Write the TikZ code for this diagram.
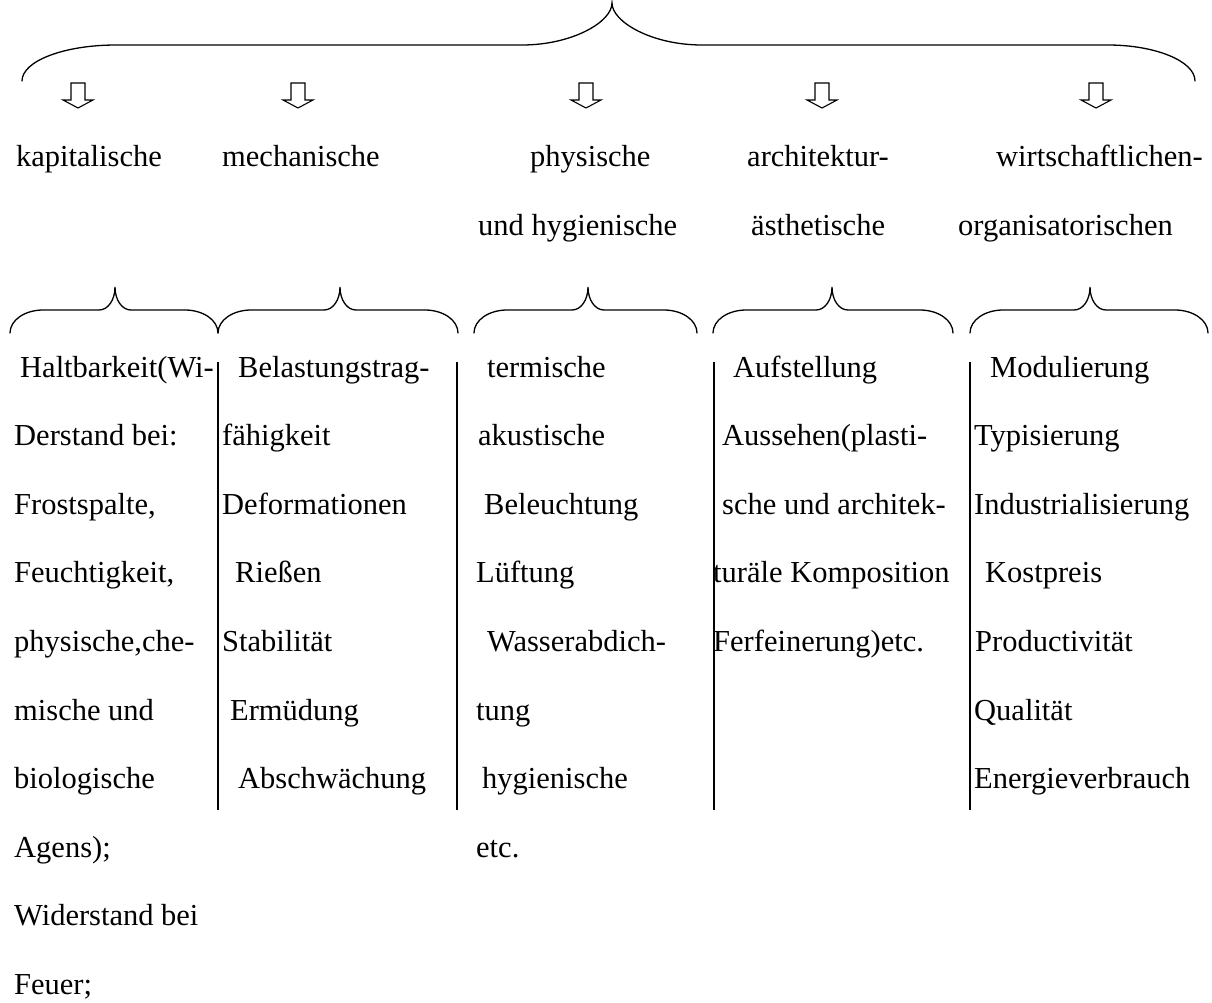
\documentclass[tikz,border=0pt]{standalone}
\usepackage{fontspec}
\setmainfont{Liberation Serif}
\usetikzlibrary{positioning}
\begin{document}
\begin{tikzpicture}[x=1pt, y=-1pt,
    txt/.style={anchor=base west, inner sep=0pt, font=\fontsize{30.5}{36}\selectfont},
    bracket/.style={line width=1.3pt, line cap=round},
    sepline/.style={line width=1.6pt},
    hollow/.style={line width=1.1pt, line join=miter}]
    \useasboundingbox (0,0) rectangle (1212,1002);
    % Big brace over everything
    \draw[bracket] (22,81) .. controls (22,61) and (64,45) .. (116,45) -- (522,45)
        .. controls (572,45) and (612,22) .. (612,3)
        .. controls (612,22) and (652,45) .. (702,45) -- (1108,45)
        .. controls (1155,45) and (1195,61) .. (1195,81);
    % Hollow down arrows
    \foreach \a in {78,298,586,822,1096} {
        \draw[hollow] ({\a-7},83) -- ({\a+7},83) -- ({\a+7},100) -- ({\a+15},100)
            -- (\a,108) -- ({\a-15},100) -- ({\a-7},100) -- cycle;
    }
    % Group headings
    \foreach \n/\xx/\t in {kap/16/kapitalische, mech/222/mechanische,
                           phys/530/physische, arch/747/architektur-,
                           wirt/996/wirtschaftlichen-} {
        \node[txt] (\n) at (\xx,166) {\t};
    }
    \node[txt] (phys2) at (478,235) {und hygienische};
    \node[txt] (arch2) at (751,235) {ästhetische};
    \node[txt] (wirt2) at (958,235) {organisatorischen};
    % Small braces over the columns
    \foreach \l/\m/\r in {10/115/218, 218/340/458, 474/588/697,
                          713/832/953, 970/1090/1208} {
        \draw[bracket] (\l,333) .. controls (\l,320) and ({\l+15},310) .. ({\l+33},310)
            -- ({\m-16},310) .. controls ({\m-7},310) and (\m,300) .. (\m,287)
            .. controls (\m,300) and ({\m+7},310) .. ({\m+16},310)
            -- ({\r-33},310) .. controls ({\r-15},310) and (\r,320) .. (\r,333);
    }
    % Column separators
    \foreach \v in {218,457,714,970} {
        \draw[sepline] (\v,362) -- (\v,810);
    }
    % Column 1
    \foreach \k/\xx/\t in {0/20/{Haltbarkeit(Wi-}, 1/14/{Derstand bei:},
                           2/14/{Frostspalte,}, 3/14/{Feuchtigkeit,},
                           4/14/{physische,che-}, 5/14/{mische und},
                           6/14/{biologische}, 7/14/{Agens);},
                           8/14/{Widerstand bei}, 9/14/{Feuer;}} {
        \node[txt] (kap\k) at (\xx,{377+68.6*\k}) {\t};
    }
    % Column 2
    \foreach \k/\xx/\t in {0/238/{Belastungstrag-}, 1/222/{fähigkeit},
                           2/222/{Deformationen}, 3/235/{Rießen},
                           4/222/{Stabilität}, 5/230/{Ermüdung},
                           6/238/{Abschwächung}} {
        \node[txt] (mech\k) at (\xx,{377+68.6*\k}) {\t};
    }
    % Column 3
    \foreach \k/\xx/\t in {0/487/{termische}, 1/478/{akustische},
                           2/484/{Beleuchtung}, 3/476/{Lüftung},
                           4/487/{Wasserabdich-}, 5/476/{tung},
                           6/482/{hygienische}, 7/476/{etc.}} {
        \node[txt] (phys\k) at (\xx,{377+68.6*\k}) {\t};
    }
    % Column 4
    \foreach \k/\xx/\t in {0/733/{Aufstellung}, 1/722/{Aussehen(plasti-},
                           2/722/{sche und architek-}, 3/713/{turäle Komposition},
                           4/713/{Ferfeinerung)etc.}} {
        \node[txt] (arch\k) at (\xx,{377+68.6*\k}) {\t};
    }
    % Column 5
    \foreach \k/\xx/\t in {0/990/{Modulierung}, 1/974/{Typisierung},
                           2/974/{Industrialisierung}, 3/985/{Kostpreis},
                           4/975/{Productivität}, 5/974/{Qualität},
                           6/974/{Energieverbrauch}} {
        \node[txt] (wirt\k) at (\xx,{377+68.6*\k}) {\t};
    }
\end{tikzpicture}
\end{document}
